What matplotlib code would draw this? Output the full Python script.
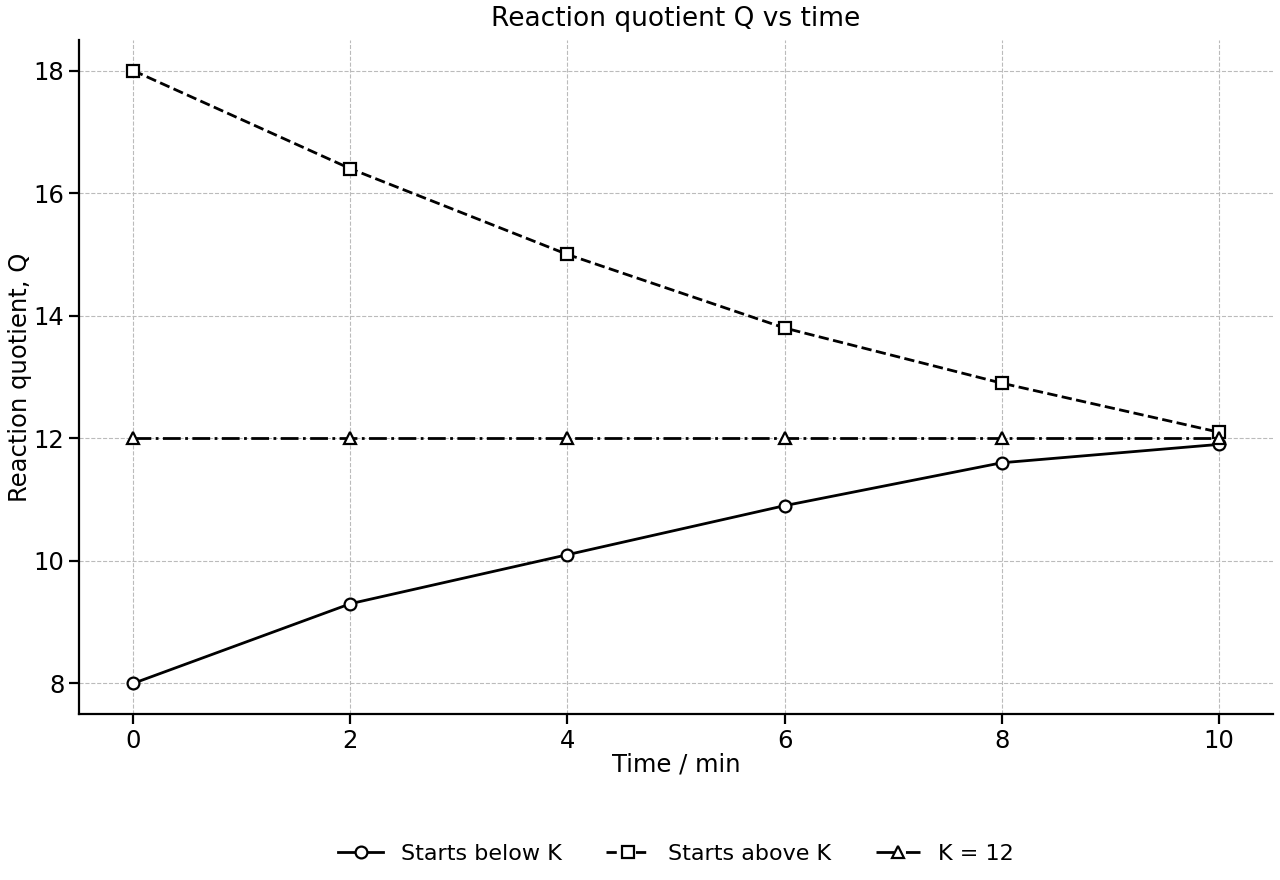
import numpy as np
import matplotlib
matplotlib.use("Agg")
import matplotlib.pyplot as plt

time_min = [0, 2, 4, 6, 8, 10]
q_below = [8.0, 9.3, 10.1, 10.9, 11.6, 11.9]
q_above = [18.0, 16.4, 15.0, 13.8, 12.9, 12.1]
k_value = [12, 12, 12, 12, 12, 12]

fig = plt.figure(figsize=(12.8, 8.8), dpi=100)
ax = fig.add_axes([79 / 1280, 1 - 714 / 880, (1273 - 79) / 1280, (714 - 40) / 880])

mk = dict(markersize=8.5, markerfacecolor='white', markeredgecolor='black', markeredgewidth=1.6)
ax.plot(time_min, q_below, '-', color='black', linewidth=2, marker='o', label='Starts below K', **mk)
ax.plot(time_min, q_above, '--', color='black', linewidth=2, marker='s', label='Starts above K', **mk)
ax.plot(time_min, k_value, '-.', color='black', linewidth=2, marker='^', label='K = 12', **mk)

ax.set_xlim(-0.5, 10.5)
ax.set_ylim(7.5, 18.5)
ax.set_xticks([0, 2, 4, 6, 8, 10])
ax.set_yticks([8, 10, 12, 14, 16, 18])
ax.grid(True, linestyle='--', color='#bbbbbb', linewidth=0.8)
ax.set_axisbelow(True)
for s in ['top', 'right']:
    ax.spines[s].set_visible(False)
for s in ['left', 'bottom']:
    ax.spines[s].set_linewidth(1.6)
ax.tick_params(labelsize=17.5, length=7, width=1.6, direction='out')

ax.set_title('Reaction quotient Q vs time', fontsize=19, pad=10)
ax.set_xlabel('Time / min', fontsize=17.5, labelpad=0)
ax.set_ylabel('Reaction quotient, Q', fontsize=17.5, labelpad=1)

ax.legend(loc='center', bbox_to_anchor=(676 / 1280, 1 - 854 / 880), bbox_transform=fig.transFigure,
          ncol=3, frameon=False, fontsize=16, columnspacing=2.0, handlelength=2.0)

fig.savefig('out.png', dpi=100)
